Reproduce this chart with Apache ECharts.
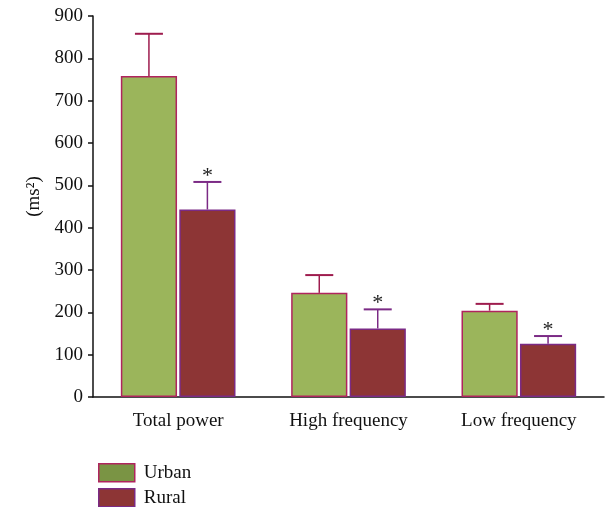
<!DOCTYPE html>
<html>
<head>
<meta charset="utf-8">
<script src="https://cdn.jsdelivr.net/npm/echarts@6/dist/echarts.min.js"></script>
<style>html,body{margin:0;padding:0;background:#fff}#c{width:614px;height:507px}</style>
</head>
<body>
<div id="c"></div>
<script>
const categories = ['Total power', 'High frequency', 'Low frequency'];
const urbanValues = [758, 246, 204];
const ruralValues = [443, 162, 126];
const urbanErrTop = [858, 288, 220];
const ruralErrTop = [508, 207, 144];
const ruralSignificant = [true, true, true];
const yTicks = { min: 0, max: 900, interval: 100 };

const FONT = 'Liberation Serif';
const FS = 19;
const BAR_FRAC = 0.33, GAP_FRAC = 0.04;

function errRender(side, color, starFlags) {
  return function (params, api) {
    const idx = api.value(0);
    const x = api.coord([idx, 0])[0];
    const band = api.size([1, 0])[0];
    const bw = band * BAR_FRAC, gap = bw * GAP_FRAC;
    const cx = x + side * (bw + gap) / 2;
    const yv = api.coord([idx, api.value(1)])[1];
    const ye = api.coord([idx, api.value(2)])[1];
    const half = 14;
    const children = [
      { type: 'line', shape: { x1: cx, y1: yv, x2: cx, y2: ye }, style: { stroke: color, lineWidth: 1.5 } },
      { type: 'line', shape: { x1: cx - half, y1: ye, x2: cx + half, y2: ye }, style: { stroke: color, lineWidth: 2 } }
    ];
    if (starFlags && starFlags[params.dataIndex]) {
      children.push({ type: 'text', style: { x: cx, y: ye - 6, text: '*', textAlign: 'center', textVerticalAlign: 'middle', font: '22px "' + FONT + '"', fill: '#222' } });
    }
    return { type: 'group', children };
  };
}

const legendText = { fontFamily: FONT, fontSize: FS, color: '#111', padding: [0, 0, 0, 4] };
const chart = echarts.init(document.getElementById('c'), null, { renderer: 'canvas' });
chart.setOption({
  animation: false,
  grid: { left: 93, right: 10, top: 16, bottom: 110, containLabel: false },
  legend: [
    { left: 98, top: 463, padding: 0, itemWidth: 36, itemHeight: 18, icon: 'rect', textStyle: legendText,
      data: [{ name: 'Urban', itemStyle: { color: '#7a9444', borderColor: '#b0245e', borderWidth: 1.5 } }] },
    { left: 98, top: 488, padding: 0, itemWidth: 36, itemHeight: 18, icon: 'rect', textStyle: legendText,
      data: [{ name: 'Rural', itemStyle: { color: '#8d3535', borderColor: '#7b2a85', borderWidth: 1.5 } }] }
  ],
  xAxis: {
    type: 'category', data: categories,
    axisLine: { lineStyle: { color: '#111', width: 1.5 } },
    axisTick: { alignWithLabel: true, length: 7, lineStyle: { color: '#111', width: 1.5 } },
    axisLabel: { interval: 0, fontFamily: FONT, fontSize: FS, color: '#111', margin: 15 }
  },
  yAxis: {
    type: 'value', min: yTicks.min, max: yTicks.max, interval: yTicks.interval,
    name: '(ms²)', nameLocation: 'middle', nameRotate: 90, nameGap: 44,
    nameTextStyle: { fontFamily: FONT, fontSize: FS, color: '#111', padding: [0, 0, 0, 20] },
    splitLine: { show: false },
    axisLine: { show: true, lineStyle: { color: '#111', width: 1.5 } },
    axisTick: { show: true, length: 5, lineStyle: { color: '#111', width: 1.5 } },
    axisLabel: { fontFamily: FONT, fontSize: FS, color: '#111', margin: 10 }
  },
  series: [
    { name: 'Urban', type: 'bar', data: urbanValues, barWidth: (BAR_FRAC * 100) + '%', barGap: (GAP_FRAC * 100) + '%',
      itemStyle: { color: '#9bb55b', borderColor: '#b0245e', borderWidth: 1.5 } },
    { name: 'Rural', type: 'bar', data: ruralValues, barWidth: (BAR_FRAC * 100) + '%', barGap: (GAP_FRAC * 100) + '%',
      itemStyle: { color: '#8d3535', borderColor: '#7b2a85', borderWidth: 1.5 } },
    { type: 'custom', coordinateSystem: 'cartesian2d', encode: { x: 0, y: [1, 2] }, z: 3,
      data: urbanValues.map((v, i) => [i, v, urbanErrTop[i]]),
      renderItem: errRender(-1, '#9e1c4e', null) },
    { type: 'custom', coordinateSystem: 'cartesian2d', encode: { x: 0, y: [1, 2] }, z: 3,
      data: ruralValues.map((v, i) => [i, v, ruralErrTop[i]]),
      renderItem: errRender(1, '#7b2a85', ruralSignificant) }
  ]
});
</script>
</body>
</html>
